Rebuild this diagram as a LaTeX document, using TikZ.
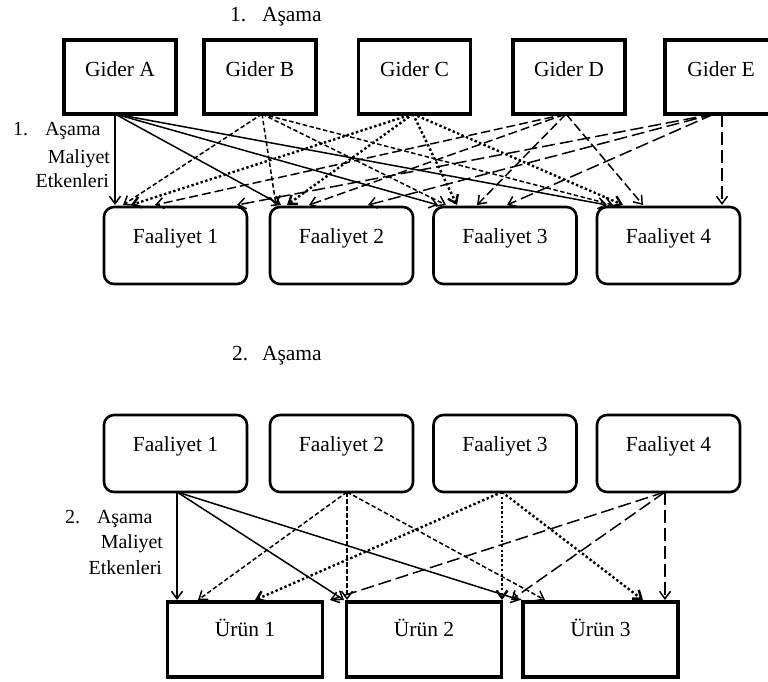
\documentclass[tikz,border=0pt]{standalone}
\usepackage{fontspec}
\setmainfont{Liberation Serif}
\usetikzlibrary{arrows.meta}
\begin{document}
\begin{tikzpicture}[x=1pt,y=-1pt,
  every node/.style={inner sep=0pt, outer sep=0pt},
  boxfont/.style={font=\fontsize{21.5}{24}\selectfont},
  gider/.style={draw, boxfont, line width=3.3pt, minimum width=112pt, text height=36pt, text depth=38pt, anchor=north},
  faal/.style={draw, boxfont, line width=2.6pt, rounded corners=10pt, minimum width=143pt, text height=36pt, text depth=41pt, anchor=north},
  urun/.style={draw, boxfont, line width=3.5pt, minimum width=155pt, text height=34pt, text depth=41pt, anchor=north},
  ttl/.style={font=\fontsize{21.5}{24}\selectfont},
  lab/.style={font=\fontsize{20}{22}\selectfont},
  arr/.style={line width=1.5pt, -{Straight Barb[length=7.5pt,width=11pt]}},
  lnA/.style={arr},
  lnB/.style={arr, dash pattern=on 4.5pt off 2.5pt},
  lnC/.style={arr, line width=2.4pt, dash pattern=on 2.4pt off 2.4pt},
  lnD/.style={arr, dash pattern=on 9pt off 4pt},
  lnE/.style={arr, dash pattern=on 13pt off 5pt}
]
\useasboundingbox (0,0) rectangle (768,681);
\clip (0,0) rectangle (768,681);

% titles
\node[ttl, anchor=base west] (t1n) at (230,21) {1.};
\node[ttl, anchor=base west] (t1a) at (262,21) {Aşama};
\node[ttl, anchor=base west] (t2n) at (232,360) {2.};
\node[ttl, anchor=base west] (t2a) at (262,360) {Aşama};

% side labels
\node[lab, anchor=base west] (l1n) at (13,135) {1.};
\node[lab, anchor=base west] (l1a) at (45,135) {Aşama};
\node[lab, anchor=base east] (l1m) at (110,163) {Maliyet};
\node[lab, anchor=base east] (l1e) at (109,187) {Etkenleri};
\node[lab, anchor=base west] (l2n) at (65,523) {2.};
\node[lab, anchor=base west] (l2a) at (97,523) {Aşama};
\node[lab, anchor=base east] (l2m) at (163,548) {Maliyet};
\node[lab, anchor=base east] (l2e) at (162,574) {Etkenleri};

% stage 1 boxes
\node[gider] (gA) at (120,40) {Gider A};
\node[gider] (gB) at (260,40) {Gider B};
\node[gider] (gC) at (414.5,40) {Gider C};
\node[gider] (gD) at (569,40) {Gider D};
\node[gider] (gE) at (721,40) {Gider E};

\node[faal] (fa1) at (175.5,207) {Faaliyet 1};
\node[faal] (fa2) at (341.5,207) {Faaliyet 2};
\node[faal] (fa3) at (505,207) {Faaliyet 3};
\node[faal] (fa4) at (668.5,207) {Faaliyet 4};

% stage 2 boxes
\node[faal] (fb1) at (175.5,415) {Faaliyet 1};
\node[faal] (fb2) at (341.5,415) {Faaliyet 2};
\node[faal] (fb3) at (505,415) {Faaliyet 3};
\node[faal] (fb4) at (668.5,415) {Faaliyet 4};

\node[urun] (u1) at (245,602) {Ürün 1};
\node[urun] (u2) at (424,602) {Ürün 2};
\node[urun] (u3) at (600.5,602) {Ürün 3};

% stage 1 connector ends
\coordinate (oA) at (115,114);
\coordinate (oB) at (262,114);
\coordinate (oC) at (413,114);
\coordinate (oD) at (566,114);
\coordinate (oE) at (714,114);
\coordinate (oEv) at (722,114);

\coordinate (fa1A) at (115,205);
\coordinate (fa1B) at (123,205);
\coordinate (fa1C) at (131,205);
\coordinate (fa1D) at (155,205);
\coordinate (fa1E) at (237,205);
\coordinate (fa2A) at (281,205);
\coordinate (fa2B) at (276,205);
\coordinate (fa2C) at (287,205);
\coordinate (fa2D) at (309,205);
\coordinate (fa2E) at (368,205);
\coordinate (fa3A) at (438,205);
\coordinate (fa3B) at (446,205);
\coordinate (fa3C) at (457,205);
\coordinate (fa3D) at (477,205);
\coordinate (fa3E) at (507,205);
\coordinate (fa4A) at (607,205);
\coordinate (fa4B) at (613,205);
\coordinate (fa4C) at (623,205);
\coordinate (fa4D) at (643,205);
\coordinate (fa4E) at (722,205);

\draw[lnA] (oA) -- (fa1A);
\draw[lnA] (oA) -- (fa2A);
\draw[lnA] (oA) -- (fa3A);
\draw[lnA] (oA) -- (fa4A);
\draw[lnB] (oB) -- (fa1B);
\draw[lnB] (oB) -- (fa2B);
\draw[lnB] (oB) -- (fa3B);
\draw[lnB] (oB) -- (fa4B);
\draw[lnC] (oC) -- (fa1C);
\draw[lnC] (oC) -- (fa2C);
\draw[lnC] (oC) -- (fa3C);
\draw[lnC] (oC) -- (fa4C);
\draw[lnD] (oD) -- (fa1D);
\draw[lnD] (oD) -- (fa2D);
\draw[lnD] (oD) -- (fa3D);
\draw[lnD] (oD) -- (fa4D);
\draw[lnE] (oE) -- (fa1E);
\draw[lnE] (oE) -- (fa2E);
\draw[lnE] (oE) -- (fa3E);
\draw[lnE] (oEv) -- (fa4E);

% stage 2 connector ends
\coordinate (p1) at (177,492);
\coordinate (p2) at (347,492);
\coordinate (p3) at (502,492);
\coordinate (p4) at (665,492);

\coordinate (u1a) at (177,600);
\coordinate (u1b) at (198,600);
\coordinate (u1c) at (255,600);
\coordinate (u1d) at (330,600);
\coordinate (u2a) at (344,600);
\coordinate (u2b) at (347,600);
\coordinate (u2c) at (502,600);
\coordinate (u2d) at (511,600);
\coordinate (u3a) at (520,600);
\coordinate (u3b) at (545,600);
\coordinate (u3c) at (643,600);
\coordinate (u3d) at (665,600);

\draw[lnA] (p1) -- (u1a);
\draw[lnA] (p1) -- (u2a);
\draw[lnA] (p1) -- (u3a);
\draw[lnB] (p2) -- (u1b);
\draw[lnB] (p2) -- (u2b);
\draw[lnB] (p2) -- (u3b);
\draw[lnC] (p3) -- (u1c);
\draw[lnC] (p3) -- (u2c);
\draw[lnC] (p3) -- (u3c);
\draw[lnE] (p4) -- (u1d);
\draw[lnE] (p4) -- (u2d);
\draw[lnE] (p4) -- (u3d);
\end{tikzpicture}
\end{document}
